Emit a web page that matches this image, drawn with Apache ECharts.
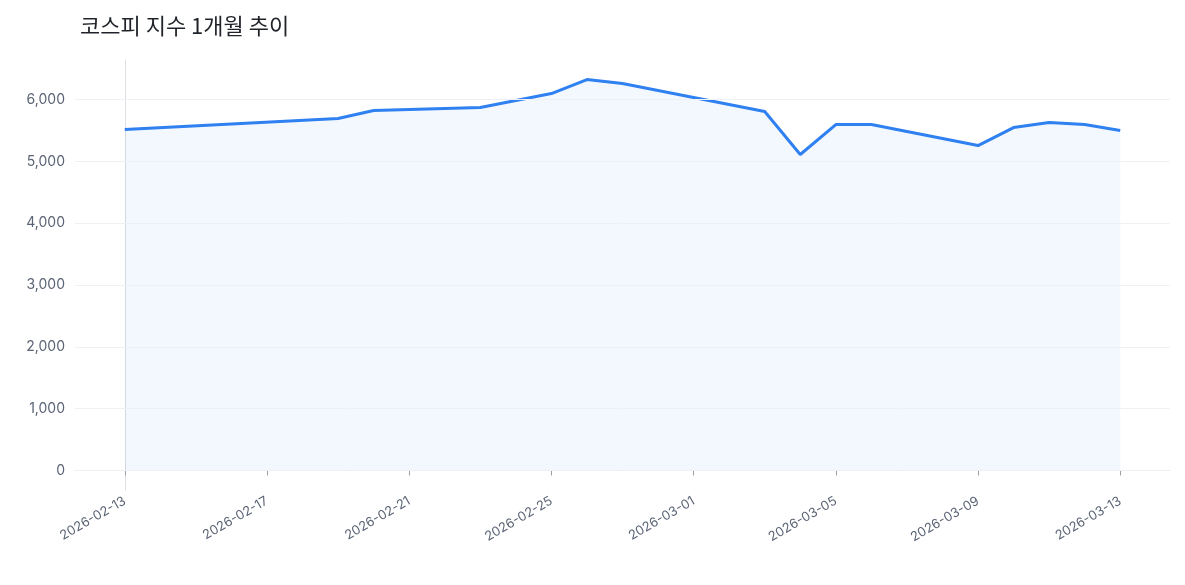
<!DOCTYPE html>
<html><head><meta charset="utf-8">
<script src="https://cdn.jsdelivr.net/npm/echarts@6/dist/echarts.min.js"></script>
<style>html,body{margin:0;background:#fff}#c{width:1185px;height:585px}</style>
</head><body><div id="c"></div>
<script>
const dates = ["2026-02-13","2026-02-19","2026-02-20","2026-02-23","2026-02-25","2026-02-26","2026-02-27",
  "2026-03-03","2026-03-04","2026-03-05","2026-03-06","2026-03-09","2026-03-10","2026-03-11","2026-03-12","2026-03-13"];
const values = [5515,5693,5822,5871,6097,6324,6259,5806,5111,5596,5596,5256,5547,5628,5596,5499];
const tickDates = ["2026-02-13","2026-02-17","2026-02-21","2026-02-25","2026-03-01","2026-03-05","2026-03-09","2026-03-13"];

const DAY = 86400000;
const t0 = Date.UTC(2026, 1, 13);
const dayOf = s => (Date.parse(s + "T00:00:00Z") - t0) / DAY;
const data = dates.map((d, i) => [dayOf(d), values[i]]);
const fmt = v => new Date(t0 + Math.round(v) * DAY).toISOString().slice(0, 10);
const tickVals = tickDates.map(dayOf);
const labelColor = "#5b6475";

const chart = echarts.init(document.getElementById("c"));
chart.setOption({
  animation: false,
  textStyle: { fontFamily: "Inter, 'Noto Sans CJK KR', sans-serif" },
  title: {
    text: "코스피 지수 1개월 추이", left: 75, top: 10,
    textStyle: { fontFamily: "'Noto Sans CJK KR', sans-serif", fontSize: 22, fontWeight: "normal", color: "#1f2329" }
  },
  grid: { left: 75, right: 15, top: 60, bottom: 95 },
  xAxis: {
    type: "value", min: -1.4, max: 29.4,
    axisLine: { show: true, lineStyle: { color: "#dcdfe4" } },
    axisTick: { show: true, customValues: tickVals, length: 5, lineStyle: { color: "#9aa0aa" } },
    axisLabel: { customValues: tickVals, formatter: fmt, rotate: 30, color: labelColor, fontSize: 13, margin: 10 },
    splitLine: { show: false }
  },
  yAxis: {
    type: "value", min: -316, max: 6640,
    axisLine: { show: true, lineStyle: { color: "#dcdfe4" } },
    axisTick: { show: true, customValues: [0,1000,2000,3000,4000,5000,6000], length: 5, lineStyle: { color: "#9aa0aa" } },
    axisLabel: { customValues: [0,1000,2000,3000,4000,5000,6000], color: labelColor, fontSize: 14, margin: 10 },
    splitLine: { show: false }
  },
  series: [{
    type: "line", data: data, symbol: "none",
    lineStyle: { color: "#2f80f0", width: 3 },
    areaStyle: { color: "rgba(59,130,246,0.09)", origin: 0 },
    markLine: {
      silent: true, symbol: "none", label: { show: false },
      lineStyle: { color: "#eef0f3", type: "solid", width: 1 },
      data: [0,1000,2000,3000,4000,5000,6000].map(v => ({ yAxis: v }))
    },
    z: 3
  }]
});
</script></body></html>
